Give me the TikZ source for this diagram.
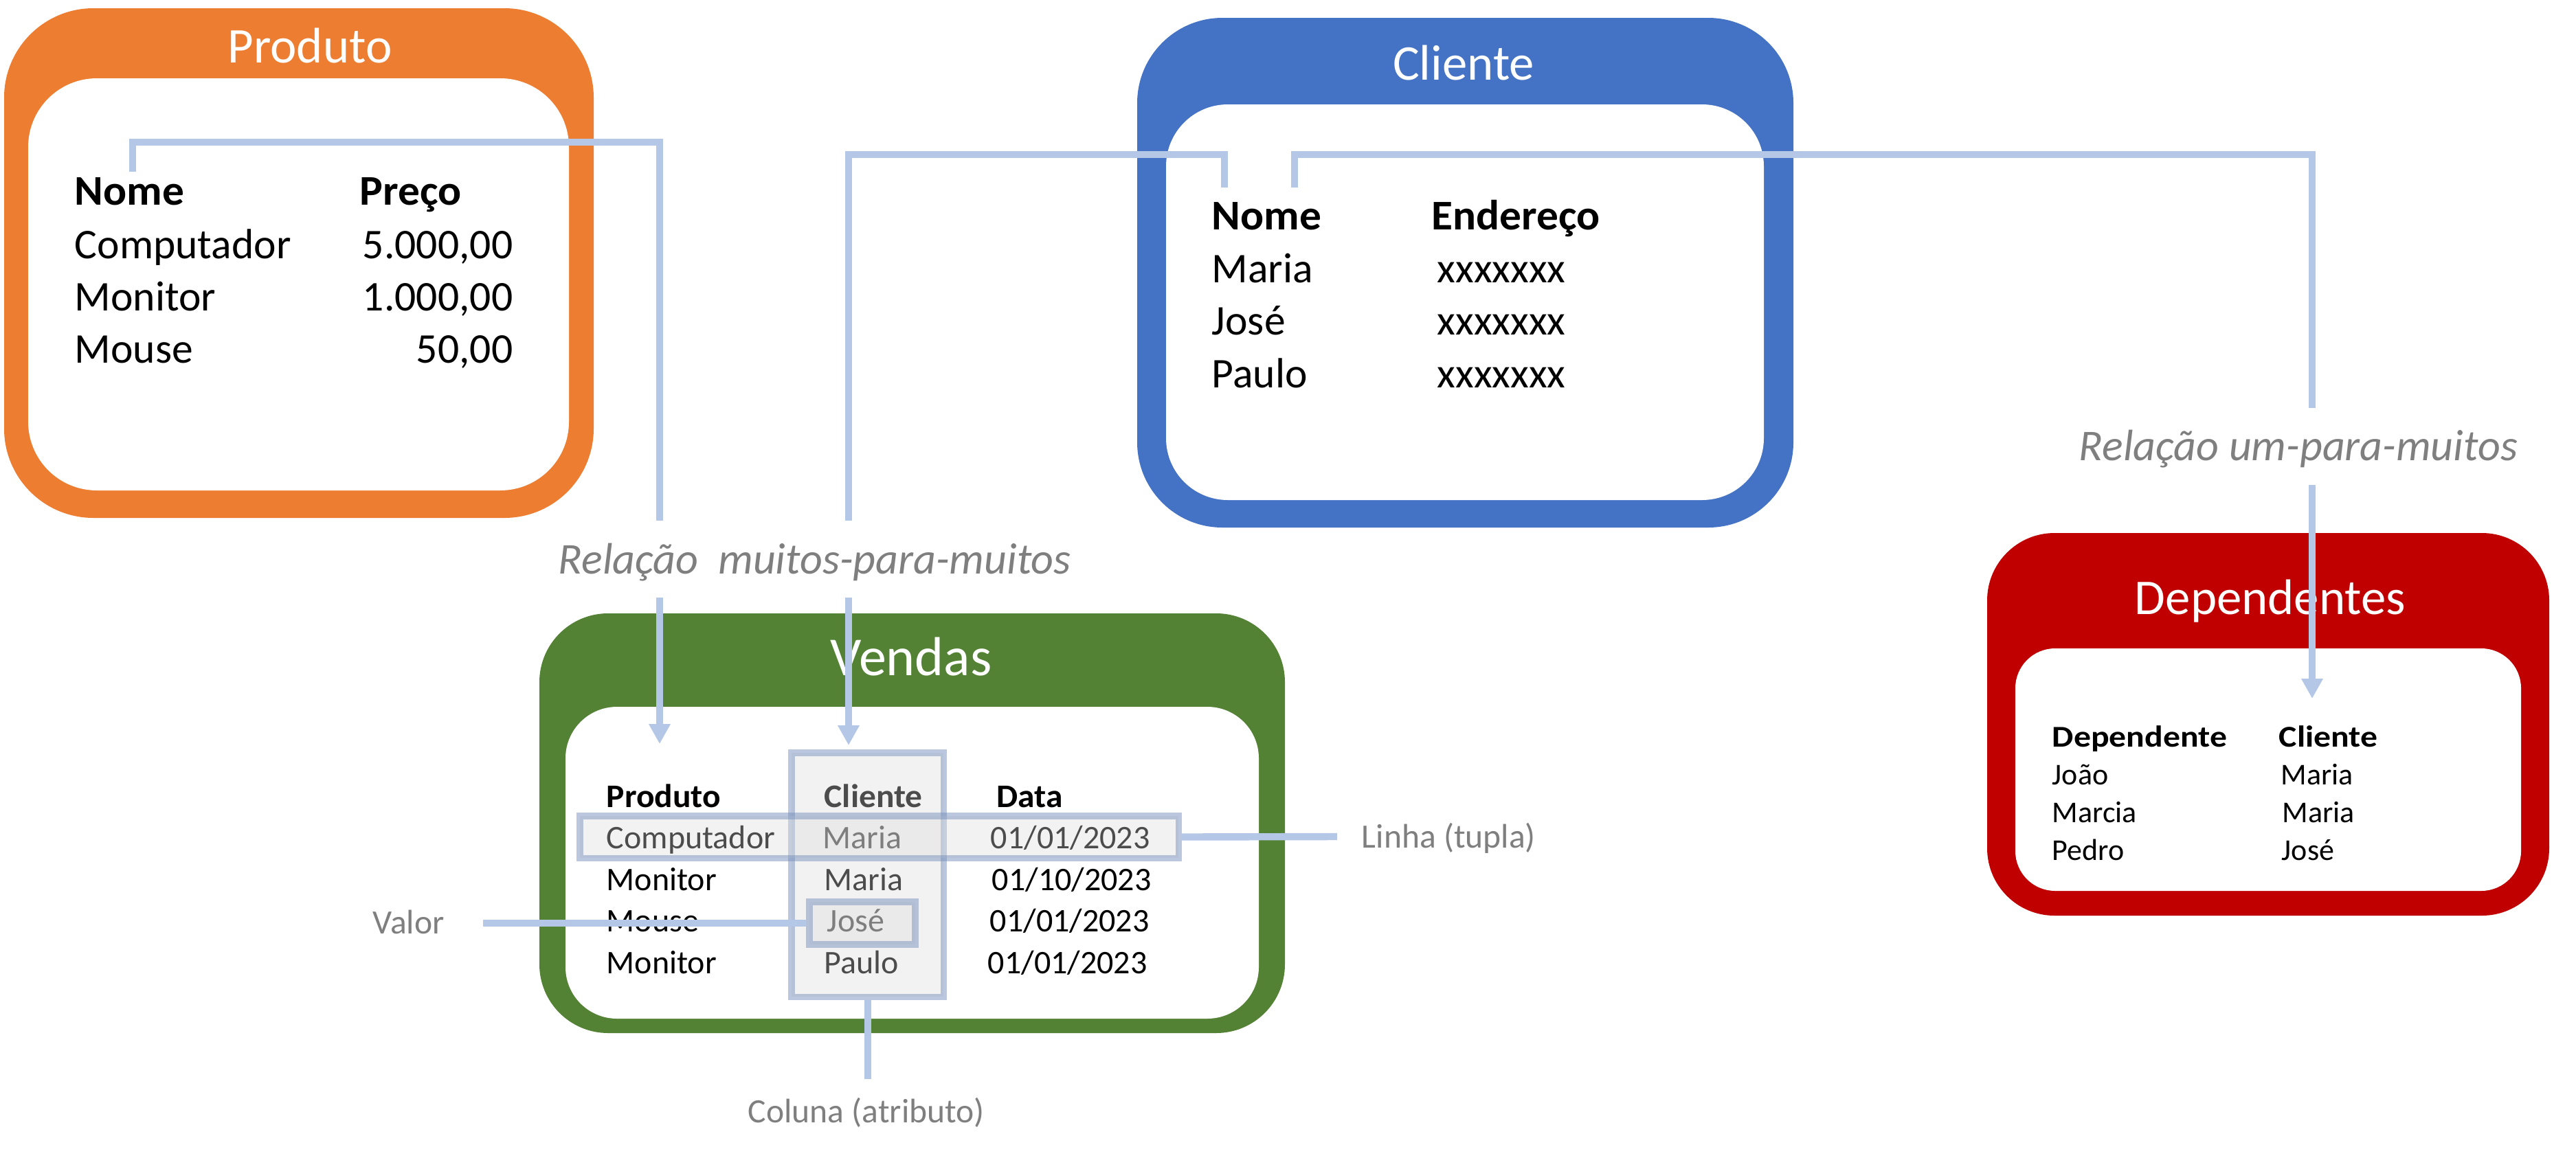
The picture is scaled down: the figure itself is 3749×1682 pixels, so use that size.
\documentclass[tikz,border=0pt]{standalone}
\usepackage{fontspec}
\setmainfont{Carlito}
\usetikzlibrary{arrows.meta}
\definecolor{cOrange}{HTML}{ED7D31}
\definecolor{cBlue}{HTML}{4472C4}
\definecolor{cGreen}{HTML}{548235}
\definecolor{cRed}{HTML}{C00000}
\definecolor{connc}{HTML}{B4C7E7}
\definecolor{lblgray}{HTML}{7F7F7F}
\definecolor{hlfill}{HTML}{DCDCDC}
\definecolor{hlstroke}{RGB}{120,145,190}
\tikzset{
  conn/.style={draw=connc, line width=2.6pt},
  arr/.style={conn, -{Triangle[length=7.2pt,width=7.4pt]}},
  ttl/.style={text=white, font=\fontsize{18.2pt}{20pt}\selectfont, inner sep=0pt, anchor=base},
  tbig/.style={font=\fontsize{15.4pt}{18pt}\selectfont, inner sep=0pt, anchor=base west},
  tbigb/.style={font=\fontsize{15.4pt}{18pt}\selectfont\bfseries\addfontfeature{FakeStretch=1.03}, inner sep=0pt, anchor=base west},
  tmid/.style={font=\fontsize{12pt}{14pt}\selectfont, inner sep=0pt, anchor=base west},
  tmidb/.style={font=\fontsize{12pt}{14pt}\selectfont\bfseries\addfontfeature{FakeStretch=1.03}, inner sep=0pt, anchor=base west},
  tsml/.style={font=\fontsize{11pt}{13pt}\selectfont, inner sep=0pt, anchor=base west},
  tsmlb/.style={font=\fontsize{11pt}{13pt}\selectfont\bfseries\addfontfeature{FakeStretch=1.13}, inner sep=0pt, anchor=base west},
  lbl/.style={text=lblgray, font=\fontsize{12.4pt}{14pt}\selectfont, inner sep=0pt, anchor=base west},
  rel/.style={text=lblgray, font=\fontsize{16pt}{18pt}\selectfont\itshape, inner sep=0pt, anchor=base west},
  hlbox/.style={draw=hlstroke, draw opacity=0.5, fill=hlfill, fill opacity=0.35, line width=2.4pt, inner sep=0pt}
}
\begin{document}
\begin{tikzpicture}[x=0.25pt,y=-0.25pt]
\useasboundingbox (0,0) rectangle (3749,1682);

% ---------- tables (outer and inner) ----------
\fill[cOrange, rounded corners=32.5pt] (6,12) rectangle (864,754);
\fill[white, rounded corners=25pt] (41,114) rectangle (828,714);
\fill[cBlue, rounded corners=31pt] (1655,26) rectangle (2610,768);
\fill[white, rounded corners=22.5pt] (1697,152) rectangle (2567,728);
\fill[cGreen, rounded corners=25pt] (785,893) rectangle (1870,1504);
\fill[white, rounded corners=18.75pt] (823,1029) rectangle (1832,1483);
\fill[cRed, rounded corners=24.5pt] (2892,776) rectangle (3710,1333);
\fill[white, rounded corners=14.5pt] (2933,944) rectangle (3669,1297);

% ---------- titles ----------
\node[ttl] (tProduto) at (451,91) {Produto};
\node[ttl] (tCliente) at (2130,116) {Cliente};
\node[ttl, font=\fontsize{20pt}{22pt}\selectfont] (tVendas) at (1326,983) {Vendas};
\node[ttl] (tDep) at (3304,894) {Dependentes};

% ---------- Produto ----------
\node[tbigb] (pNomeH) at (108,298) {Nome};
\node[tbigb] (pPrecoH) at (523,298) {Preço};
\node[tbig] (pN1) at (108,376) {Computador};
\node[tbig] (pN2) at (108,452) {Monitor};
\node[tbig] (pN3) at (108,528) {Mouse};
\node[tbig, anchor=base east] (pP1) at (747,376) {5.000,00};
\node[tbig, anchor=base east] (pP2) at (747,452) {1.000,00};
\node[tbig, anchor=base east] (pP3) at (747,528) {50,00};

% ---------- Cliente ----------
\node[tbigb] (cNomeH) at (1763,334) {Nome};
\node[tbigb] (cEndH) at (2083,334) {Endereço};
\node[tbig] (cN1) at (1763,411) {Maria};
\node[tbig] (cN2) at (1763,487) {José};
\node[tbig] (cN3) at (1763,564) {Paulo};
\node[tbig] (cE1) at (2091,411) {xxxxxxx};
\node[tbig] (cE2) at (2091,487) {xxxxxxx};
\node[tbig] (cE3) at (2091,564) {xxxxxxx};

% ---------- Vendas ----------
\node[tmidb] (vProdH) at (882,1175) {Produto};
\node[tmidb] (vCliH) at (1199,1175) {Cliente};
\node[tmidb] (vDataH) at (1450,1175) {Data};
\node[tmid] (vP1) at (882,1235) {Computador};
\node[tmid] (vP2) at (882,1296) {Monitor};
\node[tmid] (vP3) at (882,1356) {Mouse};
\node[tmid] (vP4) at (882,1417) {Monitor};
\node[tmid] (vC1) at (1197,1235) {Maria};
\node[tmid] (vC2) at (1199,1296) {Maria};
\node[tmid] (vC3) at (1203,1356) {José};
\node[tmid] (vC4) at (1199,1417) {Paulo};
\node[tmid] (vD1) at (1441,1235) {01/01/2023};
\node[tmid] (vD2) at (1443,1296) {01/10/2023};
\node[tmid] (vD3) at (1440,1356) {01/01/2023};
\node[tmid] (vD4) at (1437,1417) {01/01/2023};

% ---------- Dependentes ----------
\node[tsmlb] (dDepH) at (2986,1087) {Dependente};
\node[tsmlb] (dCliH) at (3316,1087) {Cliente};
\node[tsml] (dD1) at (2986,1142) {João};
\node[tsml] (dD2) at (2986,1197) {Marcia};
\node[tsml] (dD3) at (2986,1252) {Pedro};
\node[tsml] (dC1) at (3319,1142) {Maria};
\node[tsml] (dC2) at (3321,1197) {Maria};
\node[tsml] (dC3) at (3320,1252) {José};

% ---------- highlight boxes ----------
\node[hlbox, minimum width=55.4pt, minimum height=88.9pt] (colBox) at (1262.5,1273.5) {};
\node[hlbox, minimum width=217.9pt, minimum height=15.4pt] (rowBox) at (1279.5,1218.5) {};
\node[hlbox, minimum width=38.6pt, minimum height=15.6pt] (valBox) at (1255,1344) {};

% ---------- labels ----------
\node[rel] (relMM) at (812,835) {Relação\ \ muitos-para-muitos};
\node[rel] (relUM) at (3025,670) {Relação um-para-muitos};
\node[lbl] (lLinha) at (1981,1234) {Linha (tupla)};
\node[lbl] (lValor) at (542,1359) {Valor};
\node[lbl] (lColuna) at (1088,1634) {Coluna (atributo)};

% ---------- connector end points ----------
\coordinate (pStart) at (193,250);
\coordinate (pGapTop) at (960,758);
\coordinate (pGapBot) at (960,870);
\coordinate (vProdIn) at (960,1083);
\coordinate (cStartA) at (1782,273);
\coordinate (cGapTop) at (1235,758);
\coordinate (cGapBot) at (1235,870);
\coordinate (vCliIn) at (1235,1085);
\coordinate (cStartB) at (1884,273);
\coordinate (dGapTop) at (3365,594);
\coordinate (dGapBot) at (3365,706);
\coordinate (dCliIn) at (3365,1017);
\coordinate (linhaEnd) at (1946,1218);
\coordinate (valorEnd) at (703,1344);
\coordinate (colunaEnd) at (1263,1571);

% ---------- connectors ----------
\draw[conn] (pStart) -- ++(0,-43) -| (pGapTop);
\draw[arr] (pGapBot) -- (vProdIn);
\draw[conn] (cStartA) -- ++(0,-48) -| (cGapTop);
\draw[arr] (cGapBot) -- (vCliIn);
\draw[conn] (cStartB) -- ++(0,-48) -| (dGapTop);
\draw[arr] (dGapBot) -- (dCliIn);
\draw[conn] (rowBox.east) -- (linhaEnd);
\draw[conn] (valorEnd) -- (valBox.west);
\draw[conn] (colBox.south -| colunaEnd) -- (colunaEnd);
\end{tikzpicture}
\end{document}
